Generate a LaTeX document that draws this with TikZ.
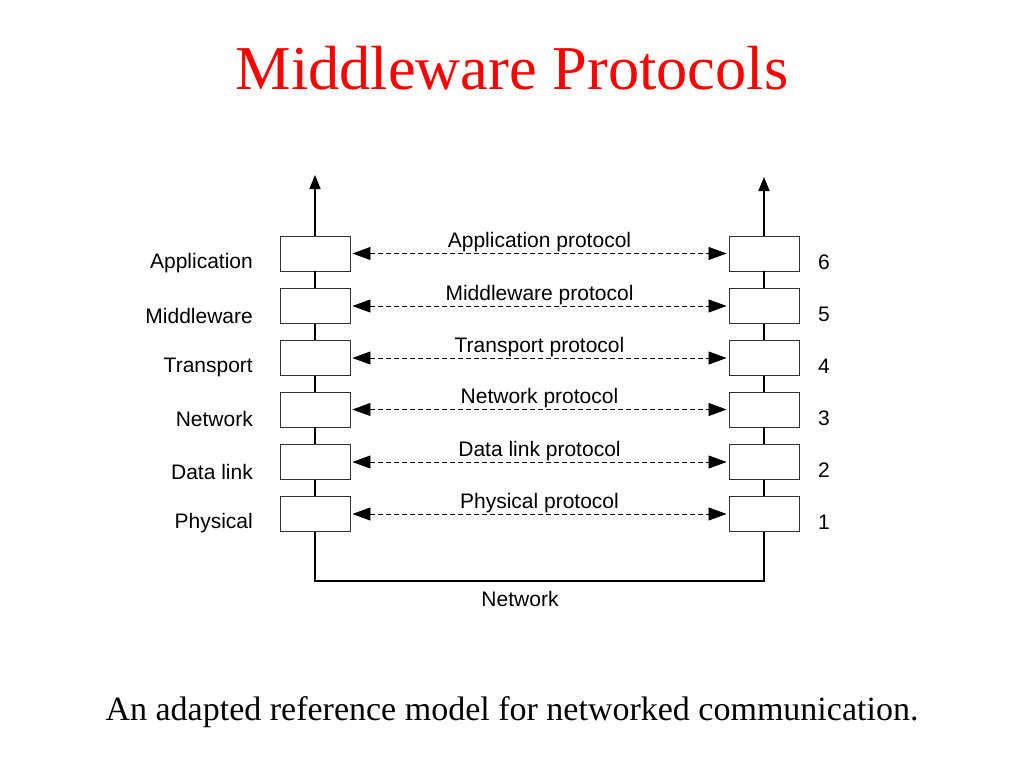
\documentclass[tikz,border=0pt]{standalone}
\usepackage{fontspec}
\setmainfont{Liberation Serif}
\newfontfamily\arialf{Liberation Sans}
\usetikzlibrary{arrows.meta,calc}
\begin{document}
\begin{tikzpicture}[x=1pt,y=1pt,
  layerbox/.style={draw=black!80, line width=0.9pt, fill=white, minimum width=70pt, minimum height=35pt, inner sep=0pt},
  stack/.style={line width=1.6pt},
  proto/.style={line width=0.7pt, dash pattern=on 5pt off 3pt, {Triangle[length=18pt,width=13pt]}-{Triangle[length=18pt,width=13pt]}, shorten <=2pt, shorten >=2pt},
  lbl/.style={font=\arialf\fontsize{21}{24}\selectfont, inner sep=0pt},
  uparrow/.style={stack, -{Triangle[length=14pt,width=11pt]}}
]
\useasboundingbox (0,0) rectangle (1024,-768);
\node[font=\fontsize{62.4}{68}\selectfont, text=red] (title) at (512,-68) {Middleware Protocols};
\node[font=\fontsize{34}{40}\selectfont] (caption) at (512,-712) {An adapted reference model for networked communication.};

\foreach \i/\yy/\name/\proto in {6/253.5/Application/Application, 5/306/Middleware/Middleware, 4/358/Transport/Transport, 3/409.5/Network/Network, 2/462/Data link/Data link, 1/514/Physical/Physical}{
  \node[layerbox] (L\i) at (315,-\yy) {};
  \node[layerbox] (R\i) at (764,-\yy) {};
  \node[lbl, anchor=east] (n\i) at (253,-\yy-9.5) {\name};
  \node[lbl] (k\i) at (824,-\yy-8.5) {\i};
  \draw[proto] (L\i.east) -- (R\i.west) node[pos=0.5, lbl, anchor=south, yshift=1pt] (p\i) {\proto{} protocol};
}
\coordinate (Ltop) at (315,-175);
\coordinate (Rtop) at (764,-177);
\coordinate (Lbot) at (315,-581);
\coordinate (Rbot) at (764,-581);
\draw[uparrow] (L6.north) -- (Ltop);
\draw[uparrow] (R6.north) -- (Rtop);
\foreach \a/\b in {6/5,5/4,4/3,3/2,2/1}{
  \draw[stack] (L\a.south) -- (L\b.north);
  \draw[stack] (R\a.south) -- (R\b.north);
}
\draw[stack] (L1.south) -- (Lbot) -- (Rbot) -- (R1.south);
\node[lbl] (net) at (520,-599) {Network};
\end{tikzpicture}
\end{document}
